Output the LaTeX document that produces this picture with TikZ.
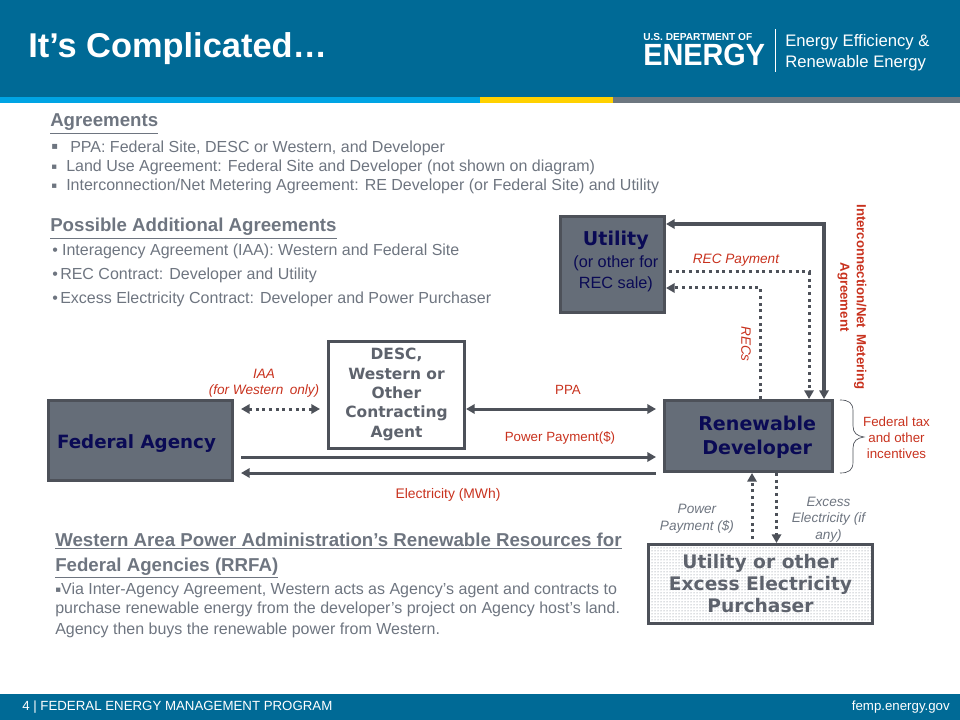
\documentclass[tikz,border=0pt]{standalone}
\usepackage{fontspec}
\usetikzlibrary{arrows.meta, patterns}
\setmainfont{Liberation Sans}
\newfontfamily\boxfont{DejaVu Sans}
\newcommand{\px}{0.75pt}
\newcommand{\fsize}[2]{\fontsize{#1}{#2}\selectfont}
\newcommand{\subline}[1]{{\normalfont\fsize{12.2}{15.5}#1}}
\newcommand{\tinybullet}{{\boxfont\fsize{6.5}{8}▪}}
\pgfdeclarepatternformonly{finedots}{\pgfpointorigin}{\pgfqpoint{2.25pt}{2.25pt}}{\pgfqpoint{2.25pt}{2.25pt}}
  {\pgfpathcircle{\pgfqpoint{1pt}{1pt}}{0.5pt}\pgfusepath{fill}}
\definecolor{headblue}{HTML}{006A96}
\definecolor{stripblue}{HTML}{00A4E4}
\definecolor{stripgold}{HTML}{FFD100}
\definecolor{stripgray}{HTML}{6D7780}
\definecolor{textgray}{HTML}{6E7580}
\definecolor{boxgray}{HTML}{656D78}
\definecolor{edgegray}{HTML}{4D5159}
\definecolor{navy}{HTML}{0A0A55}
\definecolor{labelred}{HTML}{C8321E}
\tikzset{
  >={Triangle[length=6.5pt,width=7pt]},
  bodytext/.style={anchor=base west, inner sep=0pt, text=textgray, font=\fsize{12}{14}},
  headtext/.style={anchor=base west, inner sep=0pt, text=textgray, font=\bfseries\fsize{14}{17}},
  logotext/.style={anchor=base west, inner sep=0pt, text=white},
  darkbox/.style={draw=edgegray, fill=boxgray, line width=2.25pt, text=navy, align=center, font=\boxfont\bfseries\fsize{14.3}{18}},
  whitebox/.style={draw=edgegray, fill=white, line width=2.25pt, text=textgray!85!black, align=center, font=\boxfont\bfseries\fsize{11.6}{14.5}},
  redlabel/.style={inner sep=0pt, text=labelred, align=center, font=\fsize{10}{12}},
  reditalic/.style={redlabel, font=\itshape\fsize{10.2}{12}},
  graylabel/.style={inner sep=0pt, text=textgray, align=center, font=\itshape\fsize{10.2}{12.5}},
  solidline/.style={draw=edgegray, line width=2.25pt},
  dotline/.style={draw=edgegray, line width=2.25pt, dash pattern=on 2.25pt off 2.75pt},
  footertext/.style={inner sep=0pt, text=white, font=\fsize{9.95}{12}}
}
\begin{document}
\begin{tikzpicture}[x=0.75pt, y=-0.75pt]
\useasboundingbox (0,0) rectangle (960,720);
% Header
\fill[headblue] (0,0) rectangle (960,97);
\fill[stripblue] (0,97) rectangle (480,103);
\fill[stripgold] (480,97) rectangle (613,103);
\fill[stripgray] (613,97) rectangle (960,103);
\fill[headblue] (0,694) rectangle (960,720);
\node[logotext, font=\bfseries\fsize{25.8}{30}] (title) at (28,58) {It’s Complicated…};

% Logo
\node[logotext, font=\bfseries\fsize{7.6}{9}] (doe) at (643,41) {U.S. DEPARTMENT OF};
\node[logotext, font=\bfseries\fsize{23}{28}] (energy) at (643,66) {\scalebox{0.94}[1]{ENERGY}};
\draw[white, line width=0.6pt] (775,29) -- (775,72);
\node[logotext, font=\fsize{12.5}{15}] (eere1) at (785,46.5) {Energy Efficiency \&};
\node[logotext, font=\fsize{12.5}{15}] (eere2) at (785,68) {Renewable Energy};

% Agreements
\node[headtext] (agr) at (50,127) {\underline{Agreements}};
\node[bodytext, font=\boxfont\fsize{7.5}{9}] (agrb1) at (51,149.5) {▪};
\node[bodytext] (agr1) at (70,153) {PPA: Federal Site, DESC or Western, and Developer};
\node[bodytext] (agrb2) at (51,169.5) {\tinybullet};
\node[bodytext] (agr2) at (66,172) {Land Use Agreement: Federal Site and Developer (not shown on diagram)};
\node[bodytext] (agrb3) at (51,188.5) {\tinybullet};
\node[bodytext] (agr3) at (66,191) {Interconnection/Net Metering Agreement: RE Developer (or Federal Site) and Utility};

% Additional agreements
\node[headtext] (add) at (50,232) {\underline{Possible Additional Agreements}};
\node[bodytext] (add1) at (52,256) {•\hspace{3.2pt}Interagency Agreement (IAA): Western and Federal Site};
\node[bodytext] (add2) at (52,280) {•\hspace{1.8pt}REC Contract: Developer and Utility};
\node[bodytext] (add3) at (52,303) {•\hspace{1.8pt}Excess Electricity Contract: Developer and Power Purchaser};

% Western text
\node[headtext] (west1) at (55,546) {\underline{Western Area Power Administration’s Renewable Resources for}};
\node[headtext] (west2) at (55,571) {\underline{Federal Agencies (RRFA)}};
\node[bodytext] (west3) at (55,594) {\raisebox{1pt}{\tinybullet}Via Inter-Agency Agreement, Western acts as Agency’s agent and contracts to};
\node[bodytext] (west4) at (55,613) {purchase renewable energy from the developer’s project on Agency host’s land.};
\node[bodytext] (west5) at (55,634) {Agency then buys the renewable power from Western.};

% Boxes
\node[darkbox, minimum width=104*\px, minimum height=95*\px] (utility) at (612.5,264.5)
  {\hspace*{5pt}Utility\\[-1.75pt]\subline{\hspace*{5pt}(or other for}\\[-2.25pt]\subline{\hspace*{5pt}REC sale)}\\[-10.5pt]\mbox{}};
\node[darkbox, minimum width=168*\px, minimum height=71*\px] (developer) at (748.5,436)
  {\raisebox{-1pt}[\height][\depth]{\hspace*{13pt}Renewable}\\\raisebox{-0.7pt}[\height][\depth]{\hspace*{13pt}Developer}};
\node[darkbox, font=\boxfont\bfseries\fsize{13.7}{18}, minimum width=184*\px, minimum height=80*\px] (agency) at (140.5,440.5)
  {\raisebox{-2pt}[\height][\depth]{Federal Agency\hspace*{6pt}}};
\node[whitebox, minimum width=136*\px, minimum height=107*\px] (desc) at (396.5,394.5)
  {DESC,\\Western or\\Other\\Contracting\\Agent};
\node[draw=edgegray, line width=2.25pt, pattern=finedots, pattern color=textgray, text=textgray!85!black, align=center,
  font=\boxfont\bfseries\fsize{14}{16.5}, minimum width=224*\px, minimum height=79*\px] (buyer) at (760.5,584)
  {Utility or other\\Excess Electricity\\Purchaser};

% Connectors
\coordinate (ppaline) at (0,409);
\coordinate (payline) at (0,457);
\coordinate (elecline) at (0,473);
\coordinate (intercorner) at (824,224);
\coordinate (paycorner) at (809,272);
\coordinate (reccorner) at (760.5,288);
\coordinate (buyerpay) at (752,0);
\coordinate (excess) at (776.5,0);
\draw[solidline, <->, shorten >=5.25pt] (desc.east |- ppaline) -- (developer.west |- ppaline);
\draw[dotline, <->, shorten <=5.25pt, shorten >=5.25pt] (agency.east |- ppaline) -- (desc.west |- ppaline);
\draw[solidline, ->, shorten <=5.25pt, shorten >=5.25pt] (agency.east |- payline) -- (developer.west |- payline);
\draw[solidline, <-, shorten <=5.25pt, shorten >=5.25pt] (agency.east |- elecline) -- (developer.west |- elecline);
\draw[solidline, line width=2.5pt, <->] (utility.east |- intercorner) -- (intercorner) -- (intercorner |- developer.north);
\draw[dotline, ->, shorten <=2.25pt] (utility.east |- paycorner) -- (paycorner) -- (paycorner |- developer.north);
\draw[dotline, ->] (reccorner |- developer.north) -- (reccorner) -- (utility.east |- reccorner);
\draw[dotline, ->, shorten <=3pt] (buyerpay |- buyer.north) -- (buyerpay |- developer.south);
\draw[dotline, ->] (excess |- developer.south) -- (excess |- buyer.north);

% Brace
\draw[edgegray, line width=0.5pt] (840,400) .. controls (849,400) and (853,403) .. (853,411) -- (853,426)
  .. controls (853,433) and (857,436) .. (864,437) .. controls (857,438) and (853,441) .. (853,448) -- (853,462)
  .. controls (853,470) and (849,473) .. (840,473);

% Labels
\node[reditalic] (iaalabel) at (264,383.5) {IAA\\(for Western\hspace{2pt} only)};
\node[redlabel] (ppalabel) at (568,390) {PPA};
\node[redlabel] (paylabel) at (560,438) {Power Payment(\$)};
\node[redlabel, font=\fsize{10.4}{12}] (eleclabel) at (448,494.5) {Electricity (MWh)};
\node[reditalic] (recpaylabel) at (736,260) {REC Payment};
\node[reditalic, rotate=-90] (reclabel) at (746,344) {RECs};
\node[redlabel, font=\bfseries\fsize{9.9}{12.5}, rotate=-90] (interlabel) at (852,297) {Interconnection/Net\hspace{2pt} Metering\\Agreement};
\node[redlabel] (taxlabel) at (896.5,437.5) {Federal tax\\and other\\incentives};
\node[graylabel] (buypaylabel) at (697,519) {Power\\Payment (\$)};
\node[graylabel] (excesslabel) at (828.5,519.5) {Excess\\Electricity (if\\any)};

% Footer
\node[footertext, anchor=base west] (footleft) at (22,710) {4 | FEDERAL ENERGY MANAGEMENT PROGRAM};
\node[footertext, anchor=base east] (footright) at (950,710) {femp.energy.gov};
\end{tikzpicture}
\end{document}
